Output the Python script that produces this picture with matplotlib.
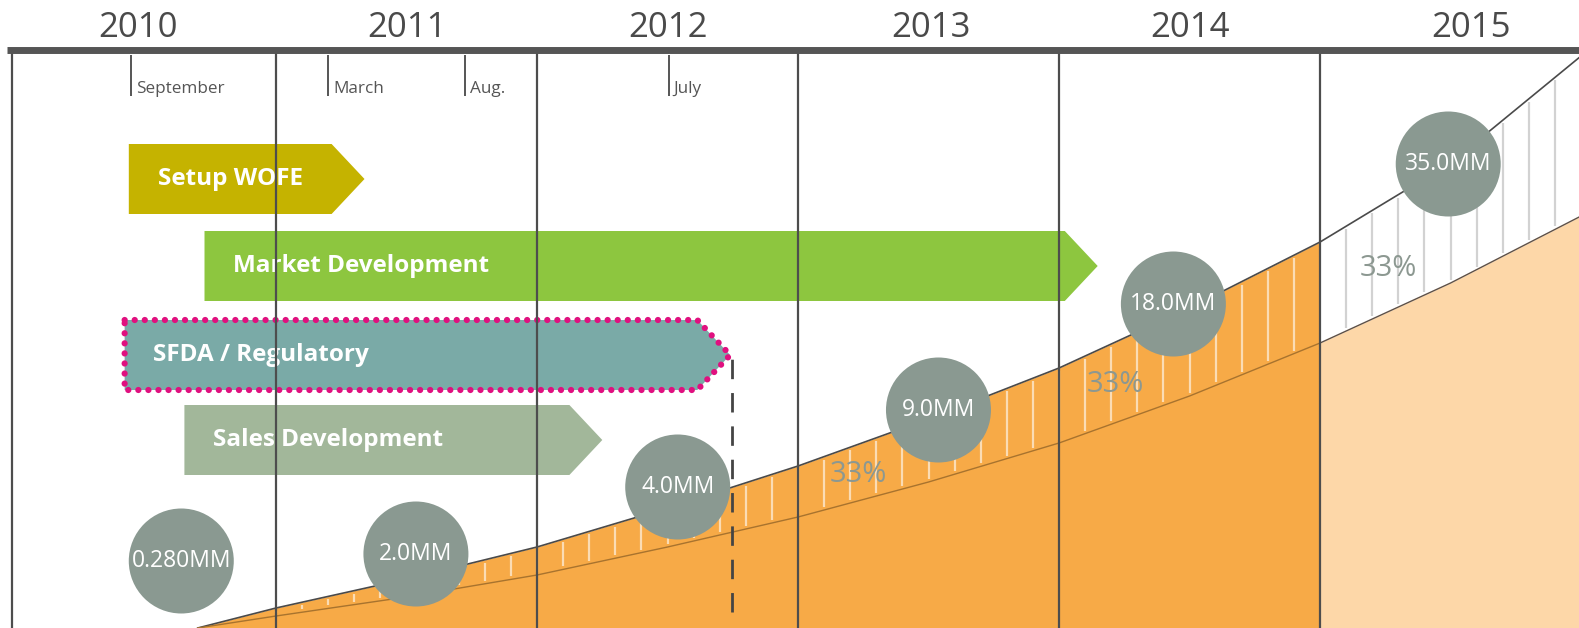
import numpy as np
import matplotlib.pyplot as plt
from matplotlib.patches import Polygon, Ellipse

# timeline header
year_labels = ['2010', '2011', '2012', '2013', '2014', '2015']
year_label_x = [2010.47, 2011.5, 2012.5, 2013.51, 2014.5, 2015.58]
year_lines = [2011, 2012, 2013, 2014, 2015]

months = ['September', 'March', 'Aug.', 'July']
month_x = [2010.444, 2011.2, 2011.725, 2012.505]

# project phases (start / end in years, row height)
tasks = ['Setup WOFE', 'Market Development', 'SFDA / Regulatory', 'Sales Development']
task_start = [2010.436, 2010.726, 2010.42, 2010.649]
task_end = [2011.339, 2014.148, 2012.74, 2012.25]
task_row = [449, 362, 273, 188]
task_color = ['#c5b300', '#8dc63f', '#7aaaa7', '#a2b79a']

# growth curves (height of the upper and lower edge of the band)
curve_x = [2010.7, 2011, 2011.5, 2012, 2012.5, 2013, 2013.5, 2014, 2014.5, 2015, 2015.5, 2016]
upper = [0, 20, 49, 81, 120, 162, 209, 260, 320, 386, 465, 572]
lower = [0, 12, 31, 53, 81, 111, 146, 185, 232, 285, 345, 412]

# revenue bubbles
revenue = ['0.280MM', '2.0MM', '4.0MM', '9.0MM', '18.0MM', '35.0MM']
bubble_x = [2010.637, 2011.536, 2012.539, 2013.538, 2014.438, 2015.491]
bubble_y = [67, 74, 141, 218, 324, 464]

growth = ['33%', '33%', '33%']
growth_x = [2013.23, 2014.216, 2015.26]
growth_y = [153, 244, 360]

milestone_x = 2012.747

px_per_year = 261.0
orange = '#f7aa47'
peach = '#fdd7a8'
line_grey = '#4d4d4d'

fig = plt.figure(figsize=(15.79, 6.28), dpi=100)
ax = fig.add_axes([0, 0, 1, 1])
ax.set_xlim(2009.9425, 2015.992)
ax.set_ylim(0, 628)
ax.axis('off')

cx = np.array(curve_x)
up = np.array(upper)
lo = np.array(lower)

# filled areas
ax.fill_between(cx, 0, up, where=cx <= 2015, color=orange, lw=0, zorder=1)
ax.fill_between(cx, 0, lo, where=cx >= 2015, color=peach, lw=0, zorder=1)

# vertical hatch inside the band
hx = np.round(np.arange(2010.8, 2015.95, 0.1), 2)
hlo = np.interp(hx, cx, lo) + 3
hhi = np.interp(hx, cx, up) - 3
keep = hhi > hlo
hx, hlo, hhi = hx[keep], hlo[keep], hhi[keep]
ax.vlines(hx[hx < 2015], hlo[hx < 2015], hhi[hx < 2015], colors='#fbdcb4', lw=1.6, zorder=2)
ax.vlines(hx[hx > 2015], hlo[hx > 2015], hhi[hx > 2015], colors='#d2d2d2', lw=1.6, zorder=2)

# curve edges
ax.plot(cx, up, color='#4a4a4a', lw=1.2, zorder=3)
m = cx <= 2015
ax.plot(cx[m], lo[m], color='#a8732e', lw=1.0, zorder=3)
m = cx >= 2015
ax.plot(cx[m], lo[m], color='#5e5046', lw=1.0, zorder=3)

# phase arrows
tip = 0.126
half = 35
for name, x0, x1, yc, col in zip(tasks, task_start, task_end, task_row, task_color):
    pts = [(x0, yc + half), (x1 - tip, yc + half), (x1, yc),
           (x1 - tip, yc - half), (x0, yc - half)]
    if name.startswith('SFDA'):
        p = Polygon(pts, closed=True, facecolor=col, edgecolor='#e0107f', lw=4.5,
                    linestyle=(0, (0.01, 1.6)), capstyle='round', joinstyle='round', zorder=3)
    else:
        p = Polygon(pts, closed=True, facecolor=col, edgecolor='none', zorder=3)
    ax.add_patch(p)
    ax.text(x0 + 0.11, yc, name, color='white', fontsize=17.5, fontweight='bold',
            family='Open Sans', va='center', ha='left', zorder=4)

# frame and year separators
ax.vlines(year_lines, 0, 578, colors=line_grey, lw=1.6, zorder=5)
ax.plot([2009.99, 2009.99], [0, 578], color=line_grey, lw=1.6, zorder=5)
ax.plot([2009.97, 2016], [578, 578], color='#555555', lw=5, solid_capstyle='butt', zorder=6)

for lab, x in zip(year_labels, year_label_x):
    ax.text(x, 600, lab, ha='center', va='center', fontsize=25, color='#4a4a4a',
            family='Open Sans')

ax.vlines(month_x, 532, 573, colors='#555555', lw=1.4, zorder=5)
for lab, x in zip(months, month_x):
    ax.text(x + 0.018, 539, lab, ha='left', va='center', fontsize=12.3,
            color='#555555', family='Open Sans')

# milestone marker
ax.plot([milestone_x, milestone_x], [16, 273], color='#444444', lw=2,
        linestyle=(0, (7, 5)), zorder=8)

# revenue bubbles
r = 52.5
for lab, x, y in zip(revenue, bubble_x, bubble_y):
    ax.add_patch(Ellipse((x, y), 2 * r / px_per_year, 2 * r, facecolor='#8a9991',
                         edgecolor='none', zorder=6))
    ax.text(x, y, lab, ha='center', va='center', color='white', fontsize=16.5,
            family='Open Sans', zorder=7)

for lab, x, y in zip(growth, growth_x, growth_y):
    ax.text(x, y, lab, ha='center', va='center', color='#8c9891', fontsize=21,
            family='Open Sans', zorder=4)

fig.savefig('out.png', dpi=100)
